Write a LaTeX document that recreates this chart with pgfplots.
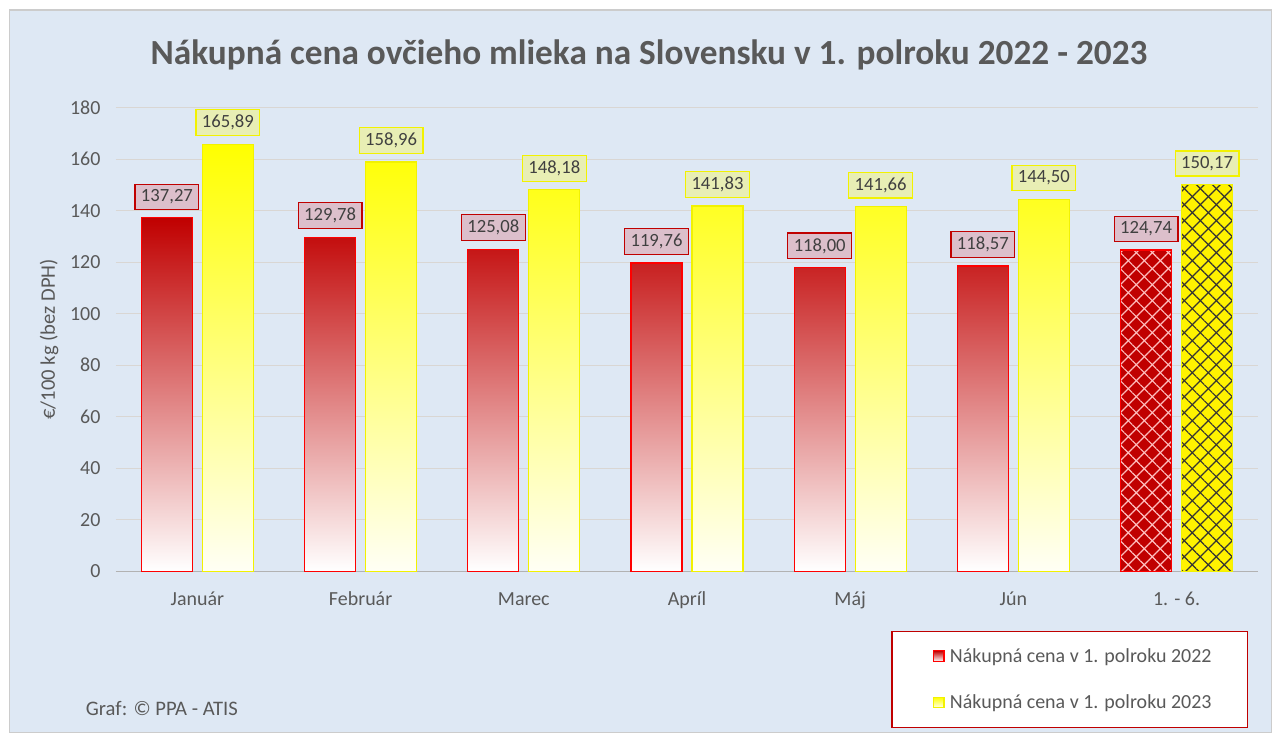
\documentclass[border=0pt]{standalone}
\usepackage{pgfplots}
\pgfplotsset{compat=1.18}
\usepackage{fontspec}
\setmainfont{Carlito}
\usetikzlibrary{patterns.meta}
\definecolor{bgblue}{HTML}{DEE8F4}
\definecolor{darkred}{HTML}{C00000}
\definecolor{txtgray}{HTML}{595959}
\definecolor{gridc}{HTML}{D9D6D3}
\definecolor{lblpink}{HTML}{DCBFCB}
\definecolor{lblyel}{HTML}{E8EEB4}
\definecolor{lblyelb}{HTML}{F2F200}
\begin{document}
\begin{tikzpicture}
\fill[white] (0pt,0pt) rectangle (954pt,-549pt);
\filldraw[fill=bgblue, draw=gray!40, line width=0.8pt] (6.8pt,-7.5pt) rectangle (955pt,-550pt);
\node[font=\fontsize{26.5}{30}\selectfont\bfseries, text=txtgray] at (487.5pt,-41.5pt) {Nákupná cena ovčieho mlieka na Slovensku v 1. polroku 2022 - 2023};
\node[font=\fontsize{15.5}{18}\selectfont, text=txtgray, anchor=west] at (61pt,-532pt) {Graf: © PPA - ATIS};
\begin{axis}[
  at={(87pt,-429pt)}, anchor=south west,
  scale only axis, width=858pt, height=348pt,
  xmin=-0.5, xmax=6.5, ymin=0, ymax=180,
  ytick={0,20,...,180},
  xtick={0,...,6},
  xticklabels={Január,Február,Marec,Apríl,Máj,Jún,1. - 6.},
  ybar, bar width=38.25pt,
  axis line style={draw=none},
  major tick length=0pt,
  ymajorgrids, grid style={gridc, line width=0.9pt},
  tick label style={font=\fontsize{15}{18}\selectfont, text=txtgray},
  /pgf/number format/assume math mode=true,
  /pgf/number format/.cd, fixed, fixed zerofill, precision=2, use comma, 1000 sep={},
  /pgfplots/.cd,
  yticklabel={\pgfmathprintnumber[fixed, precision=0, fixed zerofill=false]{\tick}},
  yticklabel style={xshift=-8pt},
  ylabel={€/100 kg (bez DPH)},
  ylabel style={font=\fontsize{15.5}{18}\selectfont, text=txtgray, yshift=2pt},
  xticklabel style={anchor=base, yshift=-26pt},
  nodes near coords,
  every node near coord/.append style={font=\fontsize{14}{16}\selectfont, text=black!75, anchor=south, yshift=6pt, inner xsep=4.5pt, inner ysep=4pt, line width=0.9pt},
  legend style={at={(0.679,-0.129)}, anchor=north west, draw=darkred, line width=0.9pt, fill=white, font=\fontsize{15}{18}\selectfont, text=txtgray, inner xsep=25pt, inner ysep=10.5pt, row sep=19pt, cells={anchor=west}},
  legend image code/.code={\pgfpathmoveto{\pgfpoint{-6pt}{0pt}}\pgfpathlineto{\pgfpoint{10.5pt}{0pt}}\pgfusepath{}\draw[#1, line width=0.8pt] (0pt,-4pt) rectangle (8pt,4pt);},
  clip=false,
]
\draw[gray!60, line width=0.9pt] (axis cs:-0.5,0) -- (axis cs:6.5,0);
\addplot[bar shift=-22.9pt, draw=red, line width=0.9pt, top color=darkred, bottom color=white,
  nodes near coords style={draw=darkred, fill=lblpink}]
  coordinates {(0,137.27) (1,129.78) (2,125.08) (3,119.76) (4,118.00) (5,118.57)};
\addlegendentry{Nákupná cena v 1. polroku 2022}
\addplot[bar shift=22.9pt, draw=lblyelb, line width=0.9pt, top color=yellow, bottom color=yellow!4,
  nodes near coords style={draw=lblyelb, fill=lblyel}]
  coordinates {(0,165.89) (1,158.96) (2,148.18) (3,141.83) (4,141.66) (5,144.50)};
\addlegendentry{Nákupná cena v 1. polroku 2023}
\addplot[forget plot, bar shift=-22.9pt, draw=red, line width=0.9pt, fill=darkred,
  postaction={pattern={Lines[angle=45,distance=8.5pt,line width=0.9pt]}, pattern color=red!25},
  postaction={pattern={Lines[angle=-45,distance=8.5pt,line width=0.9pt]}, pattern color=red!25},
  nodes near coords style={draw=darkred, fill=lblpink}]
  coordinates {(6,124.74)};
\addplot[forget plot, bar shift=22.9pt, draw=lblyelb, line width=0.9pt, fill=yellow,
  postaction={pattern={Lines[angle=45,distance=8.5pt,line width=0.9pt]}, pattern color=black!80},
  postaction={pattern={Lines[angle=-45,distance=8.5pt,line width=0.9pt]}, pattern color=black!80},
  nodes near coords style={draw=lblyelb, fill=lblyel}]
  coordinates {(6,150.17)};
\end{axis}
\end{tikzpicture}
\end{document}
